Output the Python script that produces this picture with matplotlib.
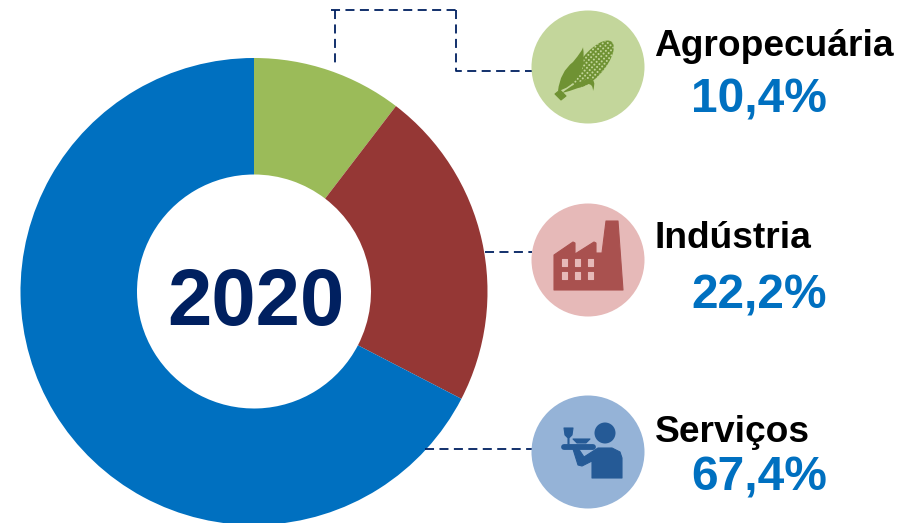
import matplotlib
matplotlib.use('Agg')
from matplotlib import pyplot as plt
from matplotlib.patches import Circle, Ellipse, PathPatch, Polygon
from matplotlib.path import Path
import numpy as np

plt.rcParams['font.family'] = ['Liberation Sans', 'DejaVu Sans']

categories = ['Agropecuária', 'Indústria', 'Serviços']
values = [10.4, 22.2, 67.4]
value_labels = ['10,4%', '22,2%', '67,4%']
center_label = '2020'

wedge_colors = ['#9BBB59', '#953735', '#0070C0']
circle_colors = ['#C3D69B', '#E6B9B8', '#95B3D7']
icon_colors = ['#6F9233', '#A9514F', '#255A96']
navy = '#002060'

fig = plt.figure(figsize=(9.02, 5.23), dpi=100)
ax = fig.add_axes([0, 0, 1, 1])

# donut, y axis is flipped so counterclock goes clockwise on screen
ax.pie(values, colors=wedge_colors, startangle=270, counterclock=True,
       center=(254, 291.5), radius=233.5,
       wedgeprops={'width': 116.5, 'linewidth': 0}, frame=True)
ax.set_xlim(0, 902)
ax.set_ylim(523, 0)
ax.set_aspect('equal')
ax.axis('off')

ax.text(255.5, 305, center_label, color=navy, fontsize=57.3, fontweight='bold',
        ha='center', va='center')

# dashed leader lines
dash = dict(color=navy, lw=1.3, dashes=(5, 3), zorder=1)
ax.plot([331, 456], [10, 10], **dash)
ax.plot([335, 335], [10, 66], **dash)
ax.plot([456, 456, 532], [10, 70.5, 70.5], **dash)
ax.plot([485, 532], [252, 252], **dash)
ax.plot([425, 532], [449, 449], **dash)

circle_y = [67, 260, 452]
for y, col in zip(circle_y, circle_colors):
    ax.add_patch(Circle((588, y), 56.5, fc=col, ec='none', zorder=2))

label_y = [46, 239, 432]
pct_y = [100, 296, 478]
for name, pct, ly, py in zip(categories, value_labels, label_y, pct_y):
    ax.text(654.5, ly, name, color='black', fontsize=26.7, fontweight='bold',
            ha='left', va='center')
    ax.text(759, py, pct, color='#0070C0', fontsize=34.5, fontweight='bold',
            ha='center', va='center')


def curve(points, color):
    codes = [Path.MOVETO] + [Path.CURVE3] * (len(points) - 1)
    ax.add_patch(PathPatch(Path(points, codes), fc=color, ec='none', zorder=4))


def shape(points, color, z=3):
    ax.add_patch(Polygon(points, fc=color, ec=color, lw=0.8, joinstyle='round', zorder=z))


# corn icon
green = icon_colors[0]
ear_x, ear_y = 593, 64
ear = Ellipse((ear_x, ear_y), 58, 24, angle=-50, fc=green, ec='none', zorder=3)
ax.add_patch(ear)
ang = np.deg2rad(-50)
for i in np.arange(-32, 33, 3.6):
    for j in np.arange(-13, 14, 3.6):
        px = ear_x + i * np.cos(ang) - j * np.sin(ang)
        py = ear_y + i * np.sin(ang) + j * np.cos(ang)
        dot = Circle((px, py), 1.0, fc=circle_colors[0], ec='none', zorder=3.5)
        ax.add_patch(dot)
        dot.set_clip_path(ear)
curve([(558, 91), (560, 72), (573, 62), (583, 50), (583, 47), (586, 68),
       (577, 78), (570, 88), (558, 91)], green)
curve([(562, 93), (575, 82), (589, 79), (597, 79), (593, 91), (593, 84),
       (588, 84), (578, 89), (562, 93)], green)
shape([(555, 94), (560, 90), (566, 96), (561, 100)], green, 4)

# factory icon
red = icon_colors[1]
shape([(554, 290), (554, 255), (573, 242), (575, 243), (575, 254), (594, 242),
       (596, 243), (596, 253), (602, 253), (606, 221), (618, 221), (623, 290)], red)
for wx in (562, 575, 588):
    for wy in (259, 272):
        shape([(wx, wy), (wx + 5, wy), (wx + 5, wy + 7), (wx, wy + 7)], circle_colors[1], 4)

# waiter icon
blue = icon_colors[2]
ax.add_patch(Circle((605, 433), 10.5, fc=blue, ec='none', zorder=3))
shape([(592, 478), (592, 461), (582, 466), (578, 465), (573, 449), (578, 448),
       (584, 457), (598, 448), (612, 448), (620, 452), (622, 458), (622, 478)], blue)
ax.add_patch(PathPatch(Path([(564, 446.5), (593, 446.5)]), ec=blue, lw=4.2,
                       capstyle='round', zorder=3))
shape([(564, 428), (573, 428), (572, 435), (569, 438), (569, 444), (568, 444),
       (568, 438), (565, 435)], blue)
shape([(573, 439), (590, 439), (586, 443), (577, 443)], blue)

fig.savefig('out.png', dpi=100)
